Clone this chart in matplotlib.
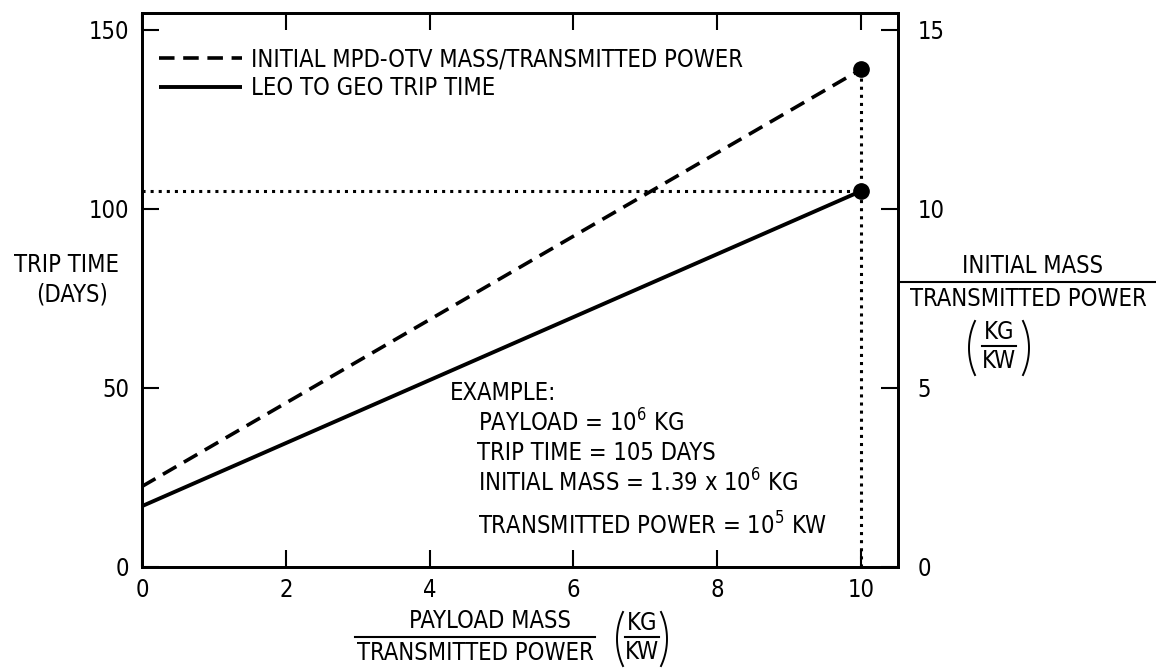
import matplotlib
matplotlib.use("Agg")
import matplotlib.pyplot as plt
from matplotlib.lines import Line2D
import numpy as np

# Datos
payload_ratio = [0, 10]          # masa de carga / potencia transmitida (kg/kW)
trip_days = [17, 105]            # tiempo de viaje LEO -> GEO (dias)
mass_ratio = [2.25, 13.9]        # masa inicial / potencia transmitida (kg/kW)
example_ratio = 10
example_days = 105
example_mass = 13.9

x_ticks = [0, 2, 4, 6, 8, 10]
left_ticks = [0, 50, 100, 150]
right_ticks = [0, 5, 10, 15]

legend_labels = ["INITIAL MPD-OTV MASS/TRANSMITTED POWER", "LEO TO GEO TRIP TIME"]
example_lines = [
    "EXAMPLE:",
    "PAYLOAD = 10$^6$ KG",
    "TRIP TIME = 105 DAYS",
    "INITIAL MASS = 1.39 x 10$^6$ KG",
    "TRANSMITTED POWER = 10$^5$ KW",
]

plt.rcParams["font.family"] = ["DejaVu Sans"]
plt.rcParams["font.stretch"] = "condensed"
plt.rcParams["mathtext.fontset"] = "custom"
plt.rcParams["mathtext.rm"] = "DejaVu Sans:stretch=condensed"
plt.rcParams["mathtext.it"] = "DejaVu Sans:stretch=condensed"
plt.rcParams["mathtext.bf"] = "DejaVu Sans:stretch=condensed"
FS = 17

W, H = 1156, 668
fig = plt.figure(figsize=(W / 100, H / 100), dpi=100)
ax = fig.add_axes([142 / W, 1 - 567 / H, (898 - 142) / W, (567 - 13) / H])
ax2 = ax.twinx()

xmax = (898 - 142) / 71.9
ymax = (567 - 13) / 3.58
ax.set_xlim(0, xmax)
ax.set_ylim(0, ymax)
ax2.set_ylim(0, ymax / 10)

# Lineas principales
sol, = ax.plot(payload_ratio, trip_days, color="black", lw=2.8, solid_capstyle="butt")
das, = ax2.plot(payload_ratio, mass_ratio, color="black", lw=2.6, dashes=(4.3, 2.4))

# Lineas punteadas del ejemplo
ax.plot([0, example_ratio], [example_days, example_days], color="black", lw=2.2, ls=":")
ax2.plot([example_ratio, example_ratio], [0, example_mass], color="black", lw=2.2, ls=":")
ax.plot([example_ratio], [example_days], "o", color="black", ms=11)
ax2.plot([example_ratio], [example_mass], "o", color="black", ms=11)

# Ticks
ax.set_xticks(x_ticks)
ax.set_yticks(left_ticks)
ax2.set_yticks(right_ticks)
ax.tick_params(axis="both", direction="in", length=12, width=1.5, labelsize=FS,
               top=True, pad=8)
ax.tick_params(axis="y", pad=9)
ax2.tick_params(axis="y", direction="in", length=12, width=1.5, labelsize=FS, pad=14)
for a in (ax, ax2):
    for s in a.spines.values():
        s.set_linewidth(2)

# Leyenda
leg = ax.legend([das, sol], legend_labels, loc="upper left", bbox_to_anchor=(0.01, 0.955),
                frameon=False, fontsize=FS, handlelength=3.5, handletextpad=0.4,
                labelspacing=0.2, borderaxespad=0)

# Texto del ejemplo
ex_pos = [(450, 393), (478, 423), (477, 453), (478, 483), (478, 526)]
for txt, (px, py) in zip(example_lines, ex_pos):
    fig.text(px / W, 1 - py / H, txt, fontsize=FS, ha="left", va="center")


def fig_line(x0, x1, y):
    fig.add_artist(Line2D([x0 / W, x1 / W], [1 - y / H, 1 - y / H], color="black", lw=1.5))


def paren(xe, cy, side, hh=27, bow=6):
    # arco fino que imita un parentesis grande (en pixeles)
    r = (hh ** 2 + bow ** 2) / (2 * bow)
    a = np.arcsin(hh / r)
    t = np.linspace(-a, a, 40)
    if side == "left":
        px = xe + r - r * np.cos(t)
    else:
        px = xe - r + r * np.cos(t)
    py = cy + r * np.sin(t)
    fig.add_artist(Line2D(px / W, 1 - py / H, color="black", lw=1.4))


def kg_kw(cx, cy, half):
    fig.text(cx / W, 1 - (cy - 14) / H, "KG", fontsize=FS, ha="center", va="center")
    fig.text(cx / W, 1 - (cy + 15) / H, "KW", fontsize=FS, ha="center", va="center")
    fig_line(cx - 17, cx + 17, cy)
    paren(cx - half, cy + 2, "left")
    paren(cx + half, cy + 2, "right")


# Etiqueta eje x
fig.text(490 / W, 1 - 621 / H, "PAYLOAD MASS", fontsize=FS, ha="center", va="center")
fig_line(355, 595, 637)
fig.text(475 / W, 1 - 653 / H, "TRANSMITTED POWER", fontsize=FS, ha="center", va="center")
kg_kw(642, 637, 25)

# Etiqueta eje izquierdo
fig.text(66 / W, 1 - 265 / H, "TRIP TIME", fontsize=FS, ha="center", va="center")
fig.text(72 / W, 1 - 295 / H, "(DAYS)", fontsize=FS, ha="center", va="center")

# Etiqueta eje derecho
fig.text(1033 / W, 1 - 266 / H, "INITIAL MASS", fontsize=FS, ha="center", va="center")
fig_line(900, 1156, 282)
fig.text(1028 / W, 1 - 299 / H, "TRANSMITTED POWER", fontsize=FS, ha="center", va="center")
kg_kw(999, 346, 30)

fig.savefig("out.png", dpi=100)
